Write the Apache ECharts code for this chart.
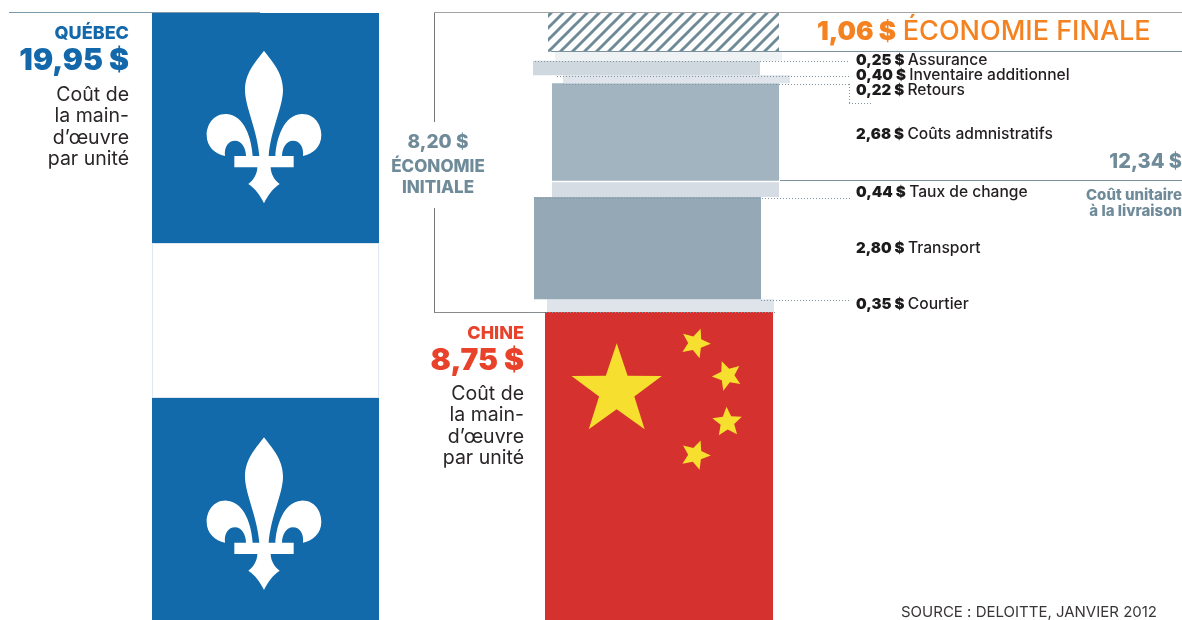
<!DOCTYPE html>
<html lang="fr">
<head>
<meta charset="utf-8">
<title>Coût de la main-d'œuvre par unité : Québec et Chine</title>
<style>
  html, body { margin: 0; padding: 0; background: #fff; }
  #chart { width: 1182px; height: 620px; }
</style>
<script src="https://cdn.jsdelivr.net/npm/echarts@6/dist/echarts.min.js"></script>
</head>
<body>
<div id="chart"></div>
<script>
// Values, in dollars per unit
const quebecCost = 19.95;
const chinaCost = 8.75;
const finalSaving = 1.06;
const initialSaving = 8.20;
const deliveredCost = 12.34;
// Cost items stacked on top of the Chinese labour cost, bottom to top
const costNames = ['Courtier', 'Transport', 'Taux de change', 'Coûts admnistratifs', 'Retours', 'Inventaire additionnel', 'Assurance'];
const costValues = [0.35, 2.80, 0.44, 2.68, 0.22, 0.40, 0.25];

// Layout of the staggered column (pixels) and segment colours
const columnWidth = 227;
const segmentLeft = [547, 534, 552, 552, 563, 533, 555];
const segmentColor = ['#dee4ea', '#94a8b5', '#d5dce3', '#a1b4bf', '#dfe5ea', '#cfd8de', '#eef2f5'];
const labelY = [304.5, 248.5, 192.5, 134.5, 90.5, 75.5, 60.5];
const quebecLeft = 152, chinaLeft = 545, hatchLeft = 548;
const plotTop = 13, plotHeight = 607, pxPerDollar = 36.46;

const FONT = 'Inter';
const money = v => v.toFixed(2).replace('.', ',') + ' $';
const sum = a => a.reduce((s, v) => s + v, 0);

// Both vertical scales share the same dollar-per-pixel ratio
const stackTop = chinaCost + sum(costValues) + finalSaving;
const quebecMin = quebecCost - plotHeight / pxPerDollar;
const stackMin = stackTop - plotHeight / pxPerDollar;

// Cumulated [left, start, end] rows for the cost segments
let running = chinaCost;
const segmentRows = costValues.map((v, i) => {
  const row = [segmentLeft[i], running, running + v];
  running += v;
  return row;
});

// Hand-traced fleur-de-lis, symmetric around x = 252
const FLEUR = 'M252 62C232 90 195 125 195 180C195 230 232 300 238 378L218 378C215 330 195 255 140 252C100 250 80 285 80 315C80 350 105 372 135 378C132 350 145 332 165 332C185 332 198 355 198 378L163 378L163 412L232 412C232 430 222 450 205 462C225 475 240 495 252 520C264 495 279 475 299 462C282 450 272 430 272 412L341 412L341 378L306 378C306 355 319 332 339 332C359 332 372 350 369 378C399 372 424 350 424 315C424 285 404 250 364 252C309 255 289 330 286 378L266 378C272 300 309 230 309 180C309 125 272 90 252 62Z';

function starPoints(cx, cy, r, rotationDeg, innerRatio) {
  const pts = [];
  for (let i = 0; i < 10; i++) {
    const radius = i % 2 ? r * innerRatio : r;
    const a = (rotationDeg + i * 36 - 90) * Math.PI / 180;
    pts.push([cx + radius * Math.cos(a), cy + radius * Math.sin(a)]);
  }
  return pts;
}

// Stars relative to the flag's top-left corner: dx, dy, radius, rotation, inner ratio
const chinaStars = [
  [71.7, 78.8, 47.5, 0, 0.39],
  [150.3, 31.3, 15.5, 20, 0.46],
  [182.3, 63.7, 15.5, -21, 0.46],
  [182.3, 110.3, 15.5, -3, 0.46],
  [150.3, 143, 15.5, 20, 0.46]
];

// Diagonal stripes used for the final saving
function stripePattern() {
  const size = 12;
  const c = document.createElement('canvas');
  c.width = c.height = size;
  const g = c.getContext('2d');
  g.strokeStyle = '#6f8a97';
  g.lineWidth = 2.9;
  g.lineCap = 'square';
  [[-size, size, size, -size], [0, size, size, 0], [0, 2 * size, 2 * size, 0]].forEach(l => {
    g.beginPath();
    g.moveTo(l[0], l[1]);
    g.lineTo(l[2], l[3]);
    g.stroke();
  });
  return c;
}
const stripes = stripePattern();

function renderQuebec(params, api) {
  const left = api.coord([api.value(0), api.value(1)]);
  const right = api.coord([api.value(0) + columnWidth, 0]);
  const top = left[1], x = left[0], w = right[0] - left[0], h = right[1] - top;
  const bandTop = top + 230, bandH = 155;
  const fleur = tipY => ({
    type: 'path',
    shape: { pathData: FLEUR },
    x: x + 112 - 252 / 3,
    y: tipY - 62 / 3,
    scaleX: 1 / 3,
    scaleY: 1 / 3,
    style: { fill: '#ffffff' }
  });
  return {
    type: 'group',
    children: [
      { type: 'rect', shape: { x, y: top, width: w, height: h }, style: { fill: '#126aaa' } },
      { type: 'rect', shape: { x, y: bandTop, width: w, height: bandH }, style: { fill: '#dfe7f0' } },
      { type: 'rect', shape: { x: x + 1, y: bandTop + 1, width: w - 2, height: bandH - 2 }, style: { fill: '#ffffff' } },
      fleur(top + 37.7),
      fleur(top + 424.3)
    ]
  };
}

function renderChina(params, api) {
  const a = api.coord([api.value(0), api.value(1)]);
  const b = api.coord([api.value(0) + columnWidth + 1, 0]);
  return {
    type: 'group',
    children: [
      { type: 'rect', shape: { x: a[0], y: a[1], width: b[0] - a[0], height: b[1] - a[1] }, style: { fill: '#d5322f' } }
    ].concat(chinaStars.map(s => ({
      type: 'polygon',
      shape: { points: starPoints(a[0] + s[0], a[1] + s[1], s[2], s[3], s[4]) },
      style: { fill: '#f6df2e' }
    })))
  };
}

function renderSegment(params, api) {
  const a = api.coord([api.value(0), api.value(2)]);
  const b = api.coord([api.value(0) + columnWidth, api.value(1)]);
  return {
    type: 'rect',
    shape: { x: a[0], y: a[1], width: b[0] - a[0], height: b[1] - a[1] },
    style: { fill: segmentColor[params.dataIndex] }
  };
}

function renderHatch(params, api) {
  const a = api.coord([api.value(0), api.value(2)]);
  const b = api.coord([api.value(0) + columnWidth + 4, api.value(1)]);
  return {
    type: 'rect',
    shape: { x: a[0], y: a[1], width: b[0] - a[0], height: b[1] - a[1] },
    style: { fill: { image: stripes, repeat: 'repeat' } }
  };
}

// Annotation helpers
const line = (x1, y1, x2, y2, color, width) => ({
  type: 'line', z: 20, silent: true,
  shape: { x1, y1, x2, y2 },
  style: { stroke: color || '#8a8a8a', lineWidth: width || 1 }
});
const dots = (x1, y1, x2, y2) => ({
  type: 'line', z: 21, silent: true,
  shape: { x1, y1, x2, y2 },
  style: { stroke: '#7f95a2', lineWidth: 1, lineDash: [1, 2] }
});
const text = (x, y, str, size, weight, color, align) => ({
  type: 'text', z: 30, x, y, silent: true,
  style: {
    text: str, fill: color || '#231f20', align: align || 'right', verticalAlign: 'middle',
    font: `${weight} ${size}px ${FONT}`
  }
});
const rule = '#7b919e';
const blue = '#1268ab', red = '#e8432a', orange = '#f58220', slate = '#6f8b99';

const costLabels = costValues.map((v, i) => ({
  type: 'text', z: 30, x: 856, y: labelY[i], silent: true,
  style: {
    text: `{b|${money(v)}} {n|${costNames[i]}}`,
    align: 'left', verticalAlign: 'middle',
    rich: {
      b: { font: `900 15px ${FONT}`, fill: '#1c1a1b' },
      n: { font: `500 15.6px ${FONT}`, fill: '#231f20' }
    }
  }
}));

const bodyLines = ['Coût de', 'la main-', 'd’œuvre', 'par unité'];

const chart = echarts.init(document.getElementById('chart'), null, { renderer: 'canvas' });
chart.setOption({
  animation: false,
  backgroundColor: '#ffffff',
  tooltip: { show: false },
  grid: { left: 0, right: 0, top: plotTop, height: plotHeight, containLabel: false },
  xAxis: { type: 'value', min: 0, max: 1182, show: false },
  yAxis: [
    { type: 'value', min: quebecMin, max: quebecCost, show: false },
    { type: 'value', min: stackMin, max: stackTop, show: false }
  ],
  series: [
    { type: 'custom', yAxisIndex: 0, clip: true, renderItem: renderQuebec, encode: { x: 0, y: 1 }, data: [[quebecLeft, quebecCost]] },
    { type: 'custom', yAxisIndex: 1, clip: true, renderItem: renderChina, encode: { x: 0, y: 1 }, data: [[chinaLeft, chinaCost]] },
    { type: 'custom', yAxisIndex: 1, clip: true, renderItem: renderSegment, encode: { x: 0, y: [1, 2] }, data: segmentRows },
    { type: 'custom', yAxisIndex: 1, clip: true, renderItem: renderHatch, encode: { x: 0, y: [1, 2] }, data: [[hatchLeft, stackTop - finalSaving, stackTop]] }
  ],
  graphic: { elements: [
    // Frame of the initial saving and horizontal rules
    line(9, 12.5, 260, 12.5, '#7d98a8'),
    line(434, 12.5, 1182, 12.5, '#a3a3a3'),
    line(434.5, 13, 434.5, 122, '#777'),
    line(434.5, 208, 434.5, 312, '#777'),
    line(434, 312.5, 545, 312.5, '#8a8a8a'),
    line(551, 51.5, 1182, 51.5, rule, 1.2),
    line(780, 180.5, 1182, 180.5, rule, 1.2),
    line(552, 181.5, 779, 181.5, '#ffffff', 1.4),
    // Dotted leaders towards the item labels
    dots(535, 61.5, 850, 61.5),
    dots(557, 76.5, 850, 76.5),
    dots(563, 84.5, 850, 84.5),
    dots(849.5, 84, 849.5, 103),
    dots(849, 103.5, 871, 103.5),
    dots(534, 198.5, 850, 198.5),
    dots(761, 300.5, 850, 300.5),
    dots(534, 312.5, 775, 312.5),
    // Québec block
    text(129, 34, 'QUÉBEC', 18, 800, blue),
    text(129, 61, money(quebecCost), 30, 900, blue)
  ].concat(
    bodyLines.map((s, i) => text(129, 95 + i * 21.5, s, 19.5, 400, '#2a2627')),
    [
      // China block
      text(524, 334, 'CHINE', 18, 800, red),
      text(524, 361, money(chinaCost), 30, 900, red)
    ],
    bodyLines.map((s, i) => text(524, 394 + i * 21.5, s, 19.5, 400, '#2a2627')),
    [
      // Initial saving
      text(438, 142, money(initialSaving), 19, 800, slate, 'center'),
      text(438, 167, 'ÉCONOMIE', 17, 800, slate, 'center'),
      text(438, 188, 'INITIALE', 17, 800, slate, 'center'),
      // Final saving
      {
        type: 'text', z: 30, x: 817, y: 32, silent: true,
        style: {
          text: `{b|${money(finalSaving)}}  {n|ÉCONOMIE FINALE}`,
          align: 'left', verticalAlign: 'middle',
          rich: {
            b: { font: `900 26px ${FONT}`, fill: orange },
            n: { font: `500 27px ${FONT}`, fill: orange }
          }
        }
      },
      // Delivered unit cost
      text(1182, 162, money(deliveredCost), 20, 800, slate),
      text(1182, 195, 'Coût unitaire', 15, 800, slate),
      text(1182, 211, 'à la livraison', 15, 800, slate),
      text(1157, 612, 'SOURCE : DELOITTE, JANVIER 2012', 15, 400, '#3a3637')
    ],
    costLabels
  ) }
});
</script>
</body>
</html>
